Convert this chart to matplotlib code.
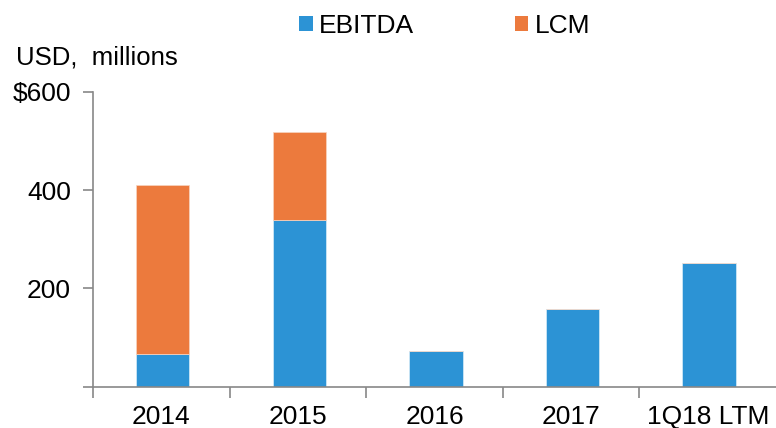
import matplotlib
matplotlib.use("Agg")
import matplotlib.pyplot as plt
from matplotlib.patches import Patch
import numpy as np

plt.rcParams['font.family'] = ['Liberation Sans', 'DejaVu Sans']

categories = ["2014", "2015", "2016", "2017", "1Q18 LTM"]
ebitda = [66, 340, 73, 159, 252]
lcm = [344, 179, 0, 0, 0]
yticks = [0, 200, 400, 600]
ytick_labels = ["", "200", "400", "$600"]

blue = "#2C93D5"
orange = "#EC7A3D"
gray = "#888888"
fs = 19

fig = plt.figure(figsize=(7.76, 4.28), dpi=100)
ax = fig.add_axes([93/776, (428-386.7)/428, 1 - 93/776, (386.7-91.7)/428])

x = np.arange(len(categories))
w = 0.39
ax.bar(x + 0.01, ebitda, w, color=blue, edgecolor="#d8ecf8", linewidth=0.5, zorder=2)
ax.bar(x + 0.01, lcm, w, bottom=ebitda, color=orange, edgecolor="#f7d5c2", linewidth=0.5, zorder=2)

ax.set_xlim(-0.5, len(categories) - 0.5)
ax.set_ylim(0, 600)

for s in ["top", "right"]:
    ax.spines[s].set_visible(False)
for s in ["left", "bottom"]:
    ax.spines[s].set_color(gray)
    ax.spines[s].set_linewidth(1.2)

ax.set_yticks(yticks)
ax.set_yticklabels(ytick_labels, fontsize=fs)
ax.tick_params(axis='y', direction='out', length=7, width=1.2, color=gray, pad=9)

ax.set_xticks(x)
ax.set_xticklabels(categories, fontsize=fs)
ax.tick_params(axis='x', which='major', length=0, pad=13.5)
ax.set_xticks(np.arange(len(categories)) - 0.5, minor=True)
ax.tick_params(axis='x', which='minor', direction='out', length=8, width=1.2, color=gray)

fig.text(16/776, 1 - 65/428, "USD,  millions", fontsize=18.5, ha='left', va='baseline')

handles = [Patch(facecolor=blue, edgecolor='none', label="EBITDA"),
           Patch(facecolor=orange, edgecolor='none', label="LCM")]
fig.legend(handles=handles, loc='upper left', bbox_to_anchor=(299/776, 1 - 14/428),
           ncol=2, frameon=False, fontsize=fs, handlelength=0.52, handleheight=0.52,
           handletextpad=0.25, columnspacing=3.8, borderpad=0, borderaxespad=0)

fig.savefig("out.png", dpi=100)
